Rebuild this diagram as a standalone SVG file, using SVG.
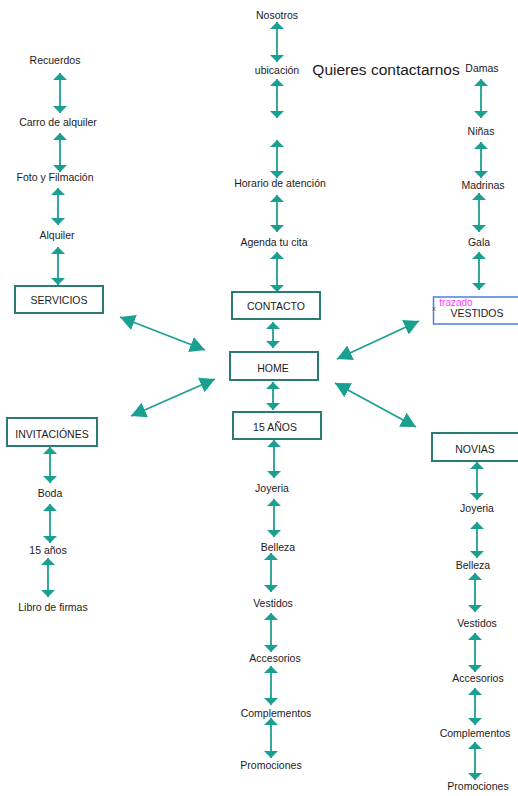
<svg xmlns="http://www.w3.org/2000/svg" width="518" height="796" viewBox="0 0 518 796">
<style>
text{font-family:"Liberation Sans",Arial,sans-serif;font-size:10.5px;fill:#1e1a1b;text-anchor:middle;dominant-baseline:central}
.box{fill:#fff;stroke:#2b7b72;stroke-width:2}
.c line{stroke:#1aa091;stroke-width:1.8}
.s{marker-start:url(#ah);marker-end:url(#ah)}
.b{marker-start:url(#big);marker-end:url(#big)}
.big{font-size:15.5px}
</style>
<defs>
<marker id="ah" markerUnits="userSpaceOnUse" viewBox="0 -8 8 16" markerWidth="8" markerHeight="16" refX="7" refY="0" orient="auto-start-reverse"><path d="M0,-7 L7,0 L0,7 Z" fill="#1aa091"/></marker>
<marker id="big" markerUnits="userSpaceOnUse" viewBox="0 -9 16 18" markerWidth="16" markerHeight="18" refX="15" refY="0" orient="auto-start-reverse"><path d="M0,-8 L15,0 L0,8 Z" fill="#1aa091"/></marker>
</defs>

<g id="connectors" class="c">
<line class="s" x1="60" y1="73" x2="60" y2="113"/>
<line class="s" x1="60" y1="133" x2="60" y2="172"/>
<line class="s" x1="58" y1="188" x2="58" y2="225"/>
<line class="s" x1="58" y1="247" x2="58" y2="285"/>
<line class="s" x1="277" y1="22" x2="277" y2="62"/>
<line class="s" x1="277" y1="79" x2="277" y2="118"/>
<line class="s" x1="277" y1="140" x2="277" y2="178"/>
<line class="s" x1="277" y1="195" x2="277" y2="232"/>
<line class="s" x1="277" y1="252" x2="277" y2="292"/>
<line class="s" x1="481" y1="79" x2="481" y2="118"/>
<line class="s" x1="481" y1="142" x2="481" y2="178"/>
<line class="s" x1="479" y1="193" x2="479" y2="232"/>
<line class="s" x1="479" y1="252" x2="479" y2="290"/>
<line class="s" x1="273" y1="322" x2="273" y2="348"/>
<line class="s" x1="273" y1="382" x2="273" y2="410"/>
<line class="b" x1="120" y1="317" x2="205" y2="350"/>
<line class="b" x1="337" y1="359" x2="419" y2="321"/>
<line class="b" x1="215" y1="379" x2="131" y2="416"/>
<line class="b" x1="335" y1="383" x2="416" y2="427"/>
<line class="s" x1="50" y1="447" x2="50" y2="483"/>
<line class="s" x1="50" y1="504" x2="50" y2="543"/>
<line class="s" x1="48" y1="558" x2="48" y2="597"/>
<line class="s" x1="274" y1="440" x2="274" y2="478"/>
<line class="s" x1="274" y1="499" x2="274" y2="537"/>
<line class="s" x1="271" y1="553" x2="271" y2="592"/>
<line class="s" x1="271" y1="613" x2="271" y2="652"/>
<line class="s" x1="271" y1="666" x2="271" y2="705"/>
<line class="s" x1="271" y1="718" x2="271" y2="758"/>
<line class="s" x1="477" y1="462" x2="477" y2="500"/>
<line class="s" x1="477" y1="522" x2="477" y2="558"/>
<line class="s" x1="475" y1="573" x2="475" y2="612"/>
<line class="s" x1="475" y1="633" x2="475" y2="672"/>
<line class="s" x1="475" y1="688" x2="475" y2="725"/>
<line class="s" x1="475" y1="742" x2="475" y2="780"/>
</g>

<g id="recuerdos"><text x="55" y="60">Recuerdos</text></g>
<g id="carro"><text x="58" y="122">Carro de alquiler</text></g>
<g id="foto"><text x="55" y="177">Foto y Filmación</text></g>
<g id="alquiler"><text x="57" y="235">Alquiler</text></g>
<g id="servicios"><rect class="box" x="15" y="286" width="88" height="27"/><text x="59" y="299.5">SERVICIOS</text></g>

<g id="nosotros"><text x="277" y="15">Nosotros</text></g>
<g id="ubicacion"><text x="277" y="70">ubicación</text></g>
<g id="quieres"><text class="big" x="386" y="69">Quieres contactarnos</text></g>
<g id="horario"><text x="280" y="183">Horario de atención</text></g>
<g id="agenda"><text x="274" y="242">Agenda tu cita</text></g>
<g id="contacto"><rect class="box" x="232" y="292" width="88" height="27"/><text x="276" y="306">CONTACTO</text></g>

<g id="damas"><text x="482" y="68">Damas</text></g>
<g id="ninas"><text x="481" y="131">Niñas</text></g>
<g id="madrinas"><text x="483" y="185">Madrinas</text></g>
<g id="gala"><text x="479" y="242">Gala</text></g>
<g id="vestidos-top">
<rect x="433.5" y="297" width="86" height="27" fill="#fff" stroke="#4a80e0" stroke-width="1.5"/>
<text x="477" y="313">VESTIDOS</text>
<text x="456" y="302" style="fill:#ff3cff;font-size:10px">trazado</text>
<text x="434" y="308" style="fill:#555;font-size:7px">x</text>
<path d="M476,309 L479,311" stroke="#4a80e0" stroke-width="1"/>
</g>

<g id="home"><rect class="box" x="230" y="352" width="88" height="28"/><text x="273" y="368">HOME</text></g>
<g id="quince"><rect class="box" x="233" y="412" width="88" height="27"/><text x="275" y="427">15 AÑOS</text></g>
<g id="invitaciones"><rect class="box" x="7" y="418" width="90" height="28"/><text x="52" y="434">INVITACIÓNES</text></g>
<g id="novias"><rect class="box" x="432" y="433" width="90" height="28"/><text x="475" y="449">NOVIAS</text></g>

<g id="boda"><text x="50" y="493">Boda</text></g>
<g id="quince-anos"><text x="48" y="550">15 años</text></g>
<g id="libro"><text x="53" y="607">Libro de firmas</text></g>

<g id="joyeria1"><text x="272" y="488">Joyeria</text></g>
<g id="belleza1"><text x="278" y="547">Belleza</text></g>
<g id="vestidos1"><text x="273" y="603">Vestidos</text></g>
<g id="accesorios1"><text x="275" y="658">Accesorios</text></g>
<g id="complementos1"><text x="276" y="713">Complementos</text></g>
<g id="promociones1"><text x="271" y="765">Promociones</text></g>

<g id="joyeria2"><text x="477" y="508">Joyeria</text></g>
<g id="belleza2"><text x="473" y="565">Belleza</text></g>
<g id="vestidos2"><text x="477" y="623">Vestidos</text></g>
<g id="accesorios2"><text x="478" y="678">Accesorios</text></g>
<g id="complementos2"><text x="475" y="733">Complementos</text></g>
<g id="promociones2"><text x="478" y="786">Promociones</text></g>
</svg>
